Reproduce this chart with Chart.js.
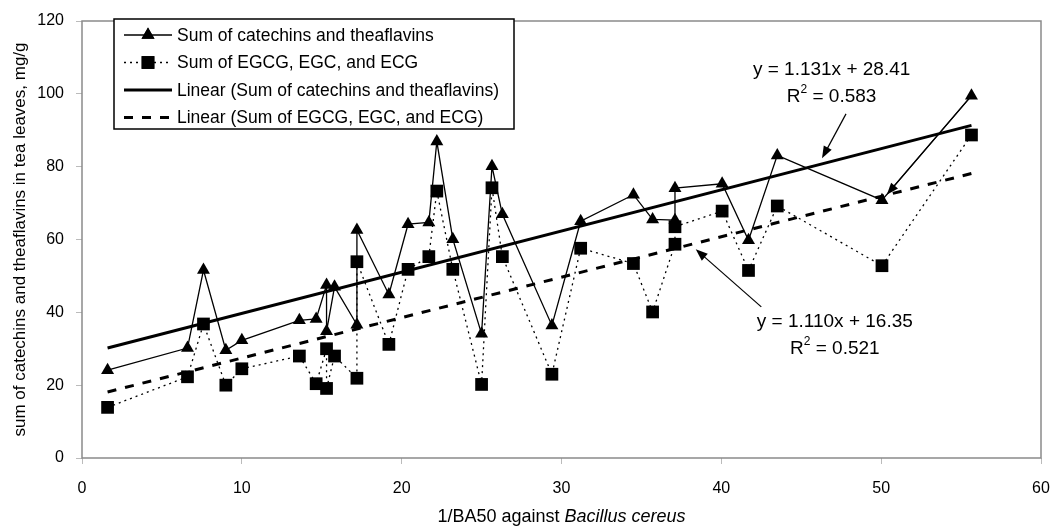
<!DOCTYPE html>
<html>
<head>
<meta charset="utf-8">
<script src="https://cdn.jsdelivr.net/npm/chart.js@4/dist/chart.umd.min.js"></script>
<style>
  body { margin: 0; background: #fff; }
  canvas { display: block; }
</style>
</head>
<body>
<canvas id="chart" width="1053" height="531"></canvas>
<script>
// values
const baValues = [1.6, 6.6, 7.6, 9.0, 10.0, 13.6, 14.65, 15.3, 15.3, 15.8, 17.2, 17.2, 19.2, 20.4, 21.7, 22.2, 23.2, 25.0, 25.65, 26.3, 29.4, 31.2, 34.5, 35.7, 37.1, 37.1, 40.05, 41.7, 43.5, 50.05, 55.65];
const catechinsTheaflavins = [24.1, 30.2, 51.6, 29.6, 32.3, 37.8, 38.2, 47.5, 34.8, 47.0, 36.6, 62.6, 44.9, 64.2, 64.7, 86.9, 60.1, 34.1, 80.1, 66.9, 36.4, 65.0, 72.3, 65.5, 65.3, 74.1, 75.3, 59.8, 83.1, 70.8, 99.5];
const egcgEgcEcg = [13.9, 22.3, 36.8, 20.0, 24.5, 28.0, 20.4, 30.0, 19.1, 28.0, 21.9, 53.9, 31.2, 51.8, 55.3, 73.3, 51.8, 20.2, 74.2, 55.3, 23.0, 57.6, 53.4, 40.1, 58.7, 63.5, 67.8, 51.5, 69.2, 52.8, 88.7];

const seriesLabels = ['Sum of catechins and theaflavins', 'Sum of EGCG, EGC, and ECG',
  'Linear (Sum of catechins and theaflavins)', 'Linear (Sum of EGCG, EGC, and ECG)'];
// trend line equations as printed on the chart
const trendSlopes = [1.131, 1.110];
const trendIntercepts = [28.41, 16.35];
const trendR2 = ['0.583', '0.521'];
const trendRange = [1.6, 55.65];

const xTicks = [0, 10, 20, 30, 40, 50, 60];
const yTicks = [0, 20, 40, 60, 80, 100, 120];

const FONT = '"Liberation Sans", Arial, sans-serif';

function points(ys) {
  return baValues.map((x, i) => ({ x: x, y: ys[i] }));
}
function trend(k) {
  return trendRange.map(x => ({ x: x, y: trendSlopes[k] * x + trendIntercepts[k] }));
}

// annotation arrows, in data units: [fromX, fromY, toX, toY]
const arrows = [
  [47.8, 94.5, 46.3, 82.3],
  [42.5, 41.5, 38.4, 57.3],
  [55.5, 98.7, 50.35, 72.3]
];

function drawArrow(ctx, x1, y1, x2, y2) {
  const a = Math.atan2(y2 - y1, x2 - x1);
  const len = 12, w = 4.5;
  ctx.beginPath();
  ctx.moveTo(x1, y1);
  ctx.lineTo(x2 - Math.cos(a) * len * 0.8, y2 - Math.sin(a) * len * 0.8);
  ctx.stroke();
  ctx.beginPath();
  ctx.moveTo(x2, y2);
  ctx.lineTo(x2 - Math.cos(a) * len + Math.sin(a) * w, y2 - Math.sin(a) * len - Math.cos(a) * w);
  ctx.lineTo(x2 - Math.cos(a) * len - Math.sin(a) * w, y2 - Math.sin(a) * len + Math.cos(a) * w);
  ctx.closePath();
  ctx.fill();
}

const extras = {
  id: 'extras',
  beforeDatasetsDraw(chart) {
    const ctx = chart.ctx, ca = chart.chartArea;
    ctx.save();
    ctx.strokeStyle = '#8a8a8a';
    ctx.lineWidth = 1.5;
    ctx.strokeRect(ca.left, ca.top, ca.right - ca.left, ca.bottom - ca.top);
    ctx.restore();
  },
  afterDraw(chart) {
    const ctx = chart.ctx, ca = chart.chartArea;
    const xs = chart.scales.x, ys = chart.scales.y;
    ctx.save();

    // arrows
    ctx.strokeStyle = '#000';
    ctx.fillStyle = '#000';
    ctx.lineWidth = 1.2;
    arrows.forEach(a => drawArrow(ctx, xs.getPixelForValue(a[0]), ys.getPixelForValue(a[1]),
      xs.getPixelForValue(a[2]), ys.getPixelForValue(a[3])));

    // equation labels
    const eqPos = [[46.9, 106.5], [47.1, 37.5]];
    ctx.textBaseline = 'middle';
    eqPos.forEach((p, k) => {
      const cx = xs.getPixelForValue(p[0]), cy = ys.getPixelForValue(p[1]);
      ctx.font = '19px ' + FONT;
      ctx.textAlign = 'center';
      ctx.fillText('y = ' + trendSlopes[k].toFixed(3) + 'x + ' + trendIntercepts[k].toFixed(2), cx, cy);
      const rest = ' = ' + trendR2[k];
      const wR = ctx.measureText('R').width, wRest = ctx.measureText(rest).width;
      ctx.font = '12px ' + FONT;
      const wSup = ctx.measureText('2').width;
      const sx = cx - (wR + wSup + wRest) / 2;
      const ry = cy + 27;
      ctx.textAlign = 'left';
      ctx.font = '19px ' + FONT;
      ctx.fillText('R', sx, ry);
      ctx.font = '12px ' + FONT;
      ctx.fillText('2', sx + wR, ry - 7);
      ctx.font = '19px ' + FONT;
      ctx.fillText(rest, sx + wR + wSup, ry);
    });

    // legend box
    const bx = ca.left + 32, by = ca.top - 2, bw = 400, bh = 110;
    ctx.fillStyle = '#fff';
    ctx.fillRect(bx, by, bw, bh);
    ctx.strokeStyle = '#000';
    ctx.lineWidth = 1.5;
    ctx.strokeRect(bx, by, bw, bh);
    ctx.font = '17.5px ' + FONT;
    ctx.textAlign = 'left';
    ctx.textBaseline = 'middle';
    chart.data.datasets.forEach((ds, i) => {
      const ly = by + 16 + i * 27.5;
      const l0 = bx + 10, l1 = bx + 58, mid = (l0 + l1) / 2;
      ctx.strokeStyle = '#000';
      ctx.fillStyle = '#000';
      ctx.lineWidth = ds.borderWidth;
      ctx.setLineDash(ds.borderDash || []);
      ctx.beginPath();
      ctx.moveTo(l0, ly);
      ctx.lineTo(l1, ly);
      ctx.stroke();
      ctx.setLineDash([]);
      if (ds.pointRadius > 0) {
        Chart.helpers.drawPoint(ctx, { pointStyle: ds.pointStyle, radius: ds.pointRadius, rotation: 0, borderWidth: 0 }, mid, ly);
        ctx.fill();
      }
      ctx.fillStyle = '#000';
      ctx.fillText(ds.label, bx + 63, ly + 1);
    });

    // x axis title with italic species name
    const t1 = '1/BA50 against ', t2 = 'Bacillus cereus';
    ctx.font = '18px ' + FONT;
    const w1 = ctx.measureText(t1).width;
    ctx.font = 'italic 18px ' + FONT;
    const w2 = ctx.measureText(t2).width;
    const tx = (ca.left + ca.right) / 2 - (w1 + w2) / 2;
    const ty = 517;
    ctx.fillStyle = '#000';
    ctx.font = '18px ' + FONT;
    ctx.fillText(t1, tx, ty);
    ctx.font = 'italic 18px ' + FONT;
    ctx.fillText(t2, tx + w1, ty);
    ctx.restore();
  }
};

new Chart(document.getElementById('chart'), {
  type: 'scatter',
  data: {
    datasets: [
      {
        label: seriesLabels[0],
        data: points(catechinsTheaflavins),
        showLine: true,
        borderColor: '#000',
        backgroundColor: '#000',
        borderWidth: 1.3,
        pointStyle: 'triangle',
        pointRadius: 7.5,
        pointBorderWidth: 0,
        pointBackgroundColor: '#000'
      },
      {
        label: seriesLabels[1],
        data: points(egcgEgcEcg),
        showLine: true,
        borderColor: '#000',
        backgroundColor: '#000',
        borderWidth: 1.3,
        borderDash: [2, 4],
        pointStyle: 'rect',
        pointRadius: 9,
        pointBorderWidth: 0,
        pointBackgroundColor: '#000'
      },
      {
        label: seriesLabels[2],
        data: trend(0),
        showLine: true,
        borderColor: '#000',
        borderWidth: 3,
        pointRadius: 0
      },
      {
        label: seriesLabels[3],
        data: trend(1),
        showLine: true,
        borderColor: '#000',
        borderWidth: 3,
        borderDash: [9, 9],
        pointRadius: 0
      }
    ]
  },
  options: {
    responsive: false,
    animation: false,
    layout: { padding: { top: 21, right: 12 } },
    plugins: {
      legend: { display: false },
      tooltip: { enabled: false }
    },
    scales: {
      x: {
        type: 'linear',
        min: 0,
        max: 60,
        afterBuildTicks: s => { s.ticks = xTicks.map(v => ({ value: v })); },
        afterFit: s => { s.height = 73; s.paddingRight = 0; s.paddingLeft = 0; },
        ticks: { font: { family: FONT, size: 16 }, color: '#000', padding: 15 },
        grid: { drawOnChartArea: false, tickLength: 6, color: '#bbb' },
        border: { display: false }
      },
      y: {
        min: 0,
        max: 120,
        afterBuildTicks: s => { s.ticks = yTicks.map(v => ({ value: v })); },
        afterFit: s => { s.width = 82; s.paddingTop = 0; s.paddingBottom = 0; },
        ticks: { font: { family: FONT, size: 16 }, color: '#000', padding: 12 },
        grid: { drawOnChartArea: false, tickLength: 6, color: '#bbb' },
        border: { display: false },
        title: {
          display: true,
          text: 'sum of catechins and theaflavins in tea leaves, mg/g',
          font: { family: FONT, size: 17 },
          color: '#000',
          padding: { top: 10, bottom: 0 }
        }
      }
    }
  },
  plugins: [extras]
});
</script>
</body>
</html>
